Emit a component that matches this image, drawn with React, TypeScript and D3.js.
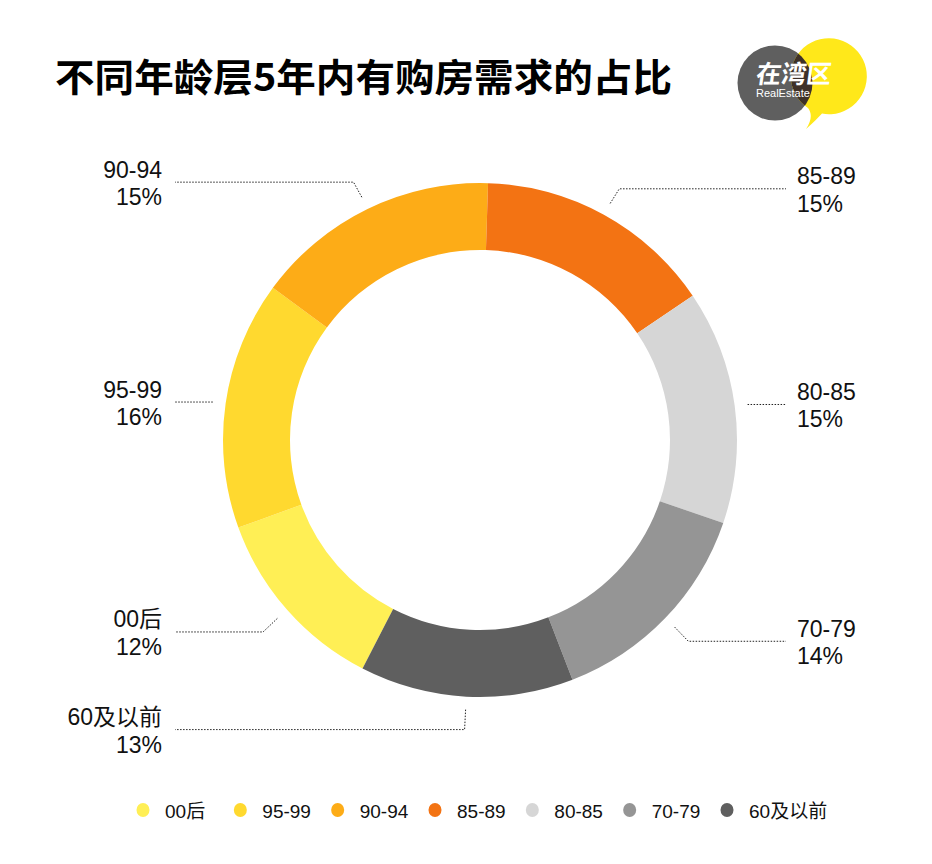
import React from "react";
import * as d3 from "d3";

const categories = ["00后", "95-99", "90-94", "85-89", "80-85", "70-79", "60及以前"];
const values = [11.9, 15.6, 15.4, 15.0, 14.7, 13.9, 13.4];
const percentLabels = ["12%", "16%", "15%", "15%", "15%", "14%", "13%"];
const colors = ["#FFEF55", "#FFD92F", "#FDAC17", "#F37313", "#D6D6D6", "#959595", "#5F5F5F"];
const title = "不同年龄层5年内有购房需求的占比";

const W = 932;
const H = 864;
const cx = 480;
const cy = 440;
const rOuter = 257;
const rInner = 190;
const startDeg = 207.2;

const FONT = "'Liberation Sans', 'Noto Sans CJK SC', Arial, sans-serif";

export default function App() {
  const pie = d3
    .pie<number>()
    .sort(null)
    .value((d) => d)
    .startAngle((startDeg * Math.PI) / 180)
    .endAngle((startDeg * Math.PI) / 180 + 2 * Math.PI);
  const arcs = pie(values);
  const arcGen = d3.arc<d3.PieArcDatum<number>>().innerRadius(rInner).outerRadius(rOuter);

  const legendX = d3.scalePoint<string>().domain(categories).range([143, 727]);

  const labels = arcs.map((a, i) => {
    const mid = (a.startAngle + a.endAngle) / 2;
    const s = Math.sin(mid);
    const c = -Math.cos(mid);
    const p0: [number, number] = [cx + 270 * s, cy + 270 * c];
    const right = s > 0;
    const endX = right ? 786 : 175;
    let pts: [number, number][];
    let lineY: number;
    if (Math.abs(c) < 0.3) {
      lineY = p0[1] + 0.5;
      pts = [[p0[0], lineY], [endX, lineY]];
    } else {
      const p1: [number, number] = [cx + 289 * s, cy + 289 * c + (c < 0 ? 2 : 1)];
      lineY = p1[1];
      pts = [p0, p1, [endX, lineY]];
    }
    const textX = right ? 797 : 162;
    return { i, pts, right, lineY, textX };
  });

  const bubble =
    "M 806 129 C 812 120, 812 113, 808 108 A 38 38 0 1 1 822 113.6 C 818 118, 812 124, 806 129 Z";

  return (
    <svg width={W} height={H} style={{ display: "block", marginTop: -8, marginLeft: -8 }} fontFamily={FONT}>
      <rect x={0} y={0} width={W} height={H} fill="#ffffff" />
      <text
        x={55}
        y={91}
        fontSize={38}
        fontWeight={700}
        fill="#000"
        fontFamily="'Noto Sans CJK SC', sans-serif"
        textLength={617}
        lengthAdjust="spacingAndGlyphs"
      >
        {title}
      </text>

      {/* logo */}
      <defs>
        <clipPath id="grayClip">
          <circle cx={775} cy={83} r={37.5} />
        </clipPath>
      </defs>
      <circle cx={775} cy={83} r={37.5} fill="#5F5F5F" />
      <path d={bubble} fill="#FFE81A" />
      <path d={bubble} fill="#3E3129" clipPath="url(#grayClip)" />
      <text
        x={756}
        y={83}
        fontSize={25}
        fontWeight={700}
        fill="#fff"
        fontFamily="'Noto Sans CJK SC', sans-serif"
        transform="skewX(-8) translate(11,0)"
      >
        在湾区
      </text>
      <text x={756} y={97} fontSize={11} fill="#fff" fontFamily={FONT}>
        RealEstate
      </text>

      {/* donut */}
      <g transform={`translate(${cx},${cy})`}>
        {arcs.map((a, i) => (
          <path key={categories[i]} d={arcGen(a) || ""} fill={colors[i]} />
        ))}
      </g>

      {/* leader lines and labels */}
      {labels.map((l) => (
        <g key={categories[l.i]}>
          <polyline
            points={l.pts.map((p) => p.join(",")).join(" ")}
            fill="none"
            stroke="#222"
            strokeWidth={1}
            strokeDasharray="1.5,1.5"
          />
          <text
            x={l.textX}
            y={l.lineY - 4.5}
            fontSize={23}
            fill="#111"
            textAnchor={l.right ? "start" : "end"}
          >
            {categories[l.i]}
          </text>
          <text
            x={l.textX}
            y={l.lineY + 23}
            fontSize={23}
            fill="#111"
            textAnchor={l.right ? "start" : "end"}
          >
            {percentLabels[l.i]}
          </text>
        </g>
      ))}

      {/* legend */}
      {categories.map((c, i) => (
        <g key={"lg" + c} transform={`translate(${legendX(c)},810)`}>
          <ellipse cx={0} cy={0} rx={6.5} ry={7} fill={colors[i]} />
          <text x={22} y={7.5} fontSize={19} fill="#111">
            {c}
          </text>
        </g>
      ))}
    </svg>
  );
}
